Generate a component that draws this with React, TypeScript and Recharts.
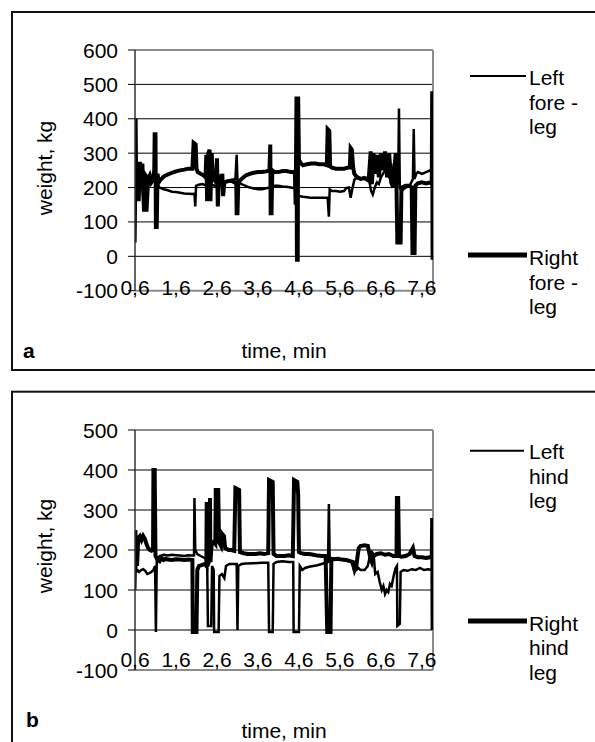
import React from "react";
import { LineChart, Line, XAxis, YAxis, ReferenceLine } from "recharts";

const FONT = "'Liberation Sans', Arial, Helvetica, sans-serif";

const timeTicks = [0.6, 1.6, 2.6, 3.6, 4.6, 5.6, 6.6, 7.6];
const timeEnd = 7.87;
const foreTicks = [-100, 0, 100, 200, 300, 400, 500, 600];
const hindTicks = [-100, 0, 100, 200, 300, 400, 500];

// [time (min), weight (kg)]
const leftFore: [number, number][] = [
  [0.6, 220], [0.61, 40], [0.625, 230], [0.65, 165], [0.68, 250], [0.72, 195], [0.76, 245], [0.8, 170],
  [0.85, 240], [0.9, 230], [0.95, 225], [1.0, 215], [1.05, 220], [1.1, 225], [1.15, 210], [1.2, 200],
  [1.3, 195], [1.4, 192], [1.5, 188], [1.6, 187], [1.7, 185], [1.8, 183], [1.9, 182], [2.0, 181],
  [2.05, 182], [2.07, 145], [2.09, 205], [2.15, 208], [2.25, 210], [2.35, 205], [2.45, 210], [2.55, 205],
  [2.65, 210], [2.75, 215], [2.85, 220], [2.95, 222], [3.05, 225], [3.08, 295], [3.1, 220], [3.15, 215],
  [3.2, 210], [3.3, 205], [3.4, 200], [3.5, 197], [3.6, 195], [3.7, 195], [3.8, 198], [3.9, 200],
  [4.0, 205], [4.1, 205], [4.2, 203], [4.3, 202], [4.4, 200], [4.5, 198], [4.53, 290], [4.57, 170],
  [4.6, 175], [4.7, 173], [4.8, 172], [4.9, 170], [5.0, 170], [5.1, 170], [5.2, 170], [5.3, 170],
  [5.33, 115], [5.35, 195], [5.4, 190], [5.5, 190], [5.6, 188], [5.7, 190], [5.75, 198], [5.82, 200],
  [5.86, 170], [5.9, 195], [5.95, 222], [6.0, 228], [6.1, 225], [6.2, 225], [6.3, 230], [6.33, 210],
  [6.36, 190], [6.4, 180], [6.45, 200], [6.5, 215], [6.55, 210], [6.6, 230], [6.65, 240], [6.7, 250],
  [6.75, 240], [6.8, 230], [6.85, 270], [6.9, 220], [6.95, 210], [7.02, 210], [7.04, 430], [7.06, 200],
  [7.1, 190], [7.2, 200], [7.3, 205], [7.38, 225], [7.4, 370], [7.42, 225], [7.46, 240], [7.5, 245],
  [7.6, 240], [7.7, 245], [7.8, 250], [7.85, 240], [7.87, 250],
];

const rightFore: [number, number][] = [
  [0.6, 210], [0.615, 400], [0.63, 180], [0.66, 270], [0.69, 160], [0.72, 275], [0.75, 200], [0.78, 270],
  [0.82, 130], [0.85, 240], [0.88, 130], [0.92, 225], [0.96, 235], [1.0, 215], [1.04, 222], [1.07, 250],
  [1.08, 355], [1.1, 355], [1.11, 85], [1.13, 85], [1.15, 240], [1.18, 215], [1.22, 222], [1.3, 232],
  [1.4, 238], [1.5, 243], [1.6, 247], [1.7, 250], [1.8, 252], [1.9, 255], [2.0, 255], [2.03, 330],
  [2.08, 325], [2.1, 255], [2.13, 245], [2.2, 240], [2.28, 235], [2.32, 230], [2.34, 295], [2.36, 160],
  [2.39, 300], [2.42, 310], [2.44, 160], [2.47, 300], [2.5, 230], [2.55, 220], [2.58, 215], [2.6, 285],
  [2.62, 145], [2.65, 230], [2.7, 220], [2.73, 240], [2.75, 175], [2.78, 215], [2.85, 218], [2.95, 220],
  [3.03, 215], [3.07, 215], [3.08, 125], [3.1, 125], [3.12, 215], [3.2, 225], [3.3, 235], [3.4, 240],
  [3.5, 243], [3.6, 245], [3.7, 245], [3.8, 247], [3.88, 250], [3.9, 325], [3.91, 125], [3.93, 125],
  [3.95, 250], [4.0, 245], [4.1, 245], [4.2, 248], [4.3, 248], [4.4, 245], [4.5, 245], [4.52, 150],
  [4.54, 465], [4.55, -10], [4.57, -10], [4.58, 465], [4.6, 280], [4.65, 270], [4.7, 265], [4.8, 268],
  [4.9, 270], [5.0, 270], [5.1, 268], [5.2, 268], [5.28, 265], [5.3, 370], [5.34, 365], [5.36, 262],
  [5.4, 258], [5.5, 255], [5.6, 255], [5.7, 255], [5.8, 258], [5.84, 258], [5.86, 315], [5.89, 310],
  [5.92, 260], [5.95, 240], [6.0, 232], [6.1, 225], [6.2, 228], [6.3, 220], [6.35, 305], [6.38, 210],
  [6.42, 300], [6.45, 240], [6.5, 295], [6.55, 230], [6.6, 300], [6.65, 250], [6.7, 305], [6.75, 230],
  [6.8, 300], [6.85, 215], [6.9, 200], [6.96, 300], [6.98, 200], [7.0, 40], [7.08, 40], [7.1, 200],
  [7.2, 205], [7.3, 205], [7.35, 200], [7.37, 10], [7.42, 10], [7.44, 205], [7.5, 212], [7.6, 215],
  [7.7, 212], [7.8, 215], [7.84, 210], [7.85, 480], [7.86, -10], [7.87, 210],
];

const leftHind: [number, number][] = [
  [0.6, 200], [0.605, 100], [0.62, 170], [0.64, 145], [0.66, 150], [0.7, 145], [0.75, 150], [0.8, 152],
  [0.85, 148], [0.9, 140], [0.95, 142], [1.0, 145], [1.05, 150], [1.09, 160], [1.11, -5], [1.13, 170],
  [1.16, 180], [1.2, 185], [1.3, 188], [1.4, 186], [1.5, 188], [1.6, 187], [1.7, 186], [1.8, 185],
  [1.9, 187], [2.0, 186], [2.04, 186], [2.05, 330], [2.07, 200], [2.12, 190], [2.2, 185], [2.3, 180],
  [2.36, 175], [2.38, 10], [2.46, 10], [2.48, 160], [2.52, 150], [2.53, -5], [2.64, -5], [2.66, 135],
  [2.72, 140], [2.78, 130], [2.82, 160], [2.9, 165], [3.0, 165], [3.08, 165], [3.1, 0], [3.12, 160],
  [3.2, 165], [3.3, 166], [3.5, 167], [3.7, 168], [3.85, 168], [3.87, -5], [3.96, -5], [3.98, 165],
  [4.05, 170], [4.2, 172], [4.35, 170], [4.46, 170], [4.47, -5], [4.6, -5], [4.62, 160], [4.68, 150],
  [4.75, 155], [4.85, 158], [4.95, 160], [5.05, 162], [5.15, 165], [5.25, 168], [5.31, 170], [5.33, 315],
  [5.35, 175], [5.4, 178], [5.5, 178], [5.6, 176], [5.7, 175], [5.8, 175], [5.88, 170], [5.94, 150],
  [6.0, 150], [6.05, 155], [6.1, 150], [6.2, 150], [6.28, 160], [6.33, 185], [6.38, 195], [6.42, 190],
  [6.46, 140], [6.52, 145], [6.57, 120], [6.62, 100], [6.66, 110], [6.7, 90], [6.74, 100], [6.78, 95],
  [6.82, 115], [6.86, 110], [6.92, 140], [6.96, 155], [6.99, 160], [7.0, 10], [7.06, 15], [7.08, 145],
  [7.15, 150], [7.25, 148], [7.35, 152], [7.45, 150], [7.55, 155], [7.65, 150], [7.75, 152], [7.85, 150],
  [7.87, 155],
];

const rightHind: [number, number][] = [
  [0.6, 150], [0.61, 250], [0.62, 180], [0.635, 215], [0.65, 160], [0.68, 230], [0.72, 235], [0.76, 225],
  [0.8, 235], [0.84, 228], [0.88, 215], [0.92, 205], [0.96, 200], [1.0, 198], [1.04, 200], [1.05, 400],
  [1.08, 400], [1.1, 185], [1.15, 175], [1.2, 172], [1.25, 180], [1.3, 175], [1.35, 178], [1.4, 176],
  [1.5, 175], [1.6, 177], [1.7, 176], [1.8, 175], [1.9, 176], [2.0, 175], [2.01, -5], [2.1, -5],
  [2.12, 150], [2.16, 160], [2.22, 162], [2.3, 165], [2.34, 160], [2.35, 320], [2.37, 160], [2.4, 170],
  [2.43, 330], [2.44, 170], [2.47, 215], [2.52, 220], [2.56, 215], [2.57, 350], [2.63, 350], [2.65, 220],
  [2.7, 210], [2.73, 240], [2.77, 235], [2.8, 205], [2.88, 200], [2.95, 200], [3.02, 198], [3.05, 355],
  [3.14, 350], [3.16, 195], [3.25, 192], [3.35, 190], [3.45, 190], [3.55, 190], [3.65, 192], [3.75, 190],
  [3.85, 192], [3.87, 375], [3.96, 370], [3.98, 190], [4.05, 185], [4.15, 185], [4.25, 185], [4.35, 187],
  [4.45, 185], [4.48, 375], [4.56, 370], [4.58, 340], [4.6, 195], [4.65, 192], [4.75, 190], [4.85, 190],
  [4.95, 188], [5.05, 186], [5.15, 185], [5.25, 185], [5.29, -5], [5.37, -5], [5.39, 178], [5.45, 177],
  [5.55, 178], [5.65, 176], [5.75, 175], [5.85, 172], [5.92, 170], [5.96, 150], [6.0, 160], [6.03, 185],
  [6.06, 205], [6.1, 210], [6.2, 212], [6.28, 210], [6.33, 185], [6.38, 170], [6.42, 185], [6.5, 190],
  [6.6, 192], [6.7, 188], [6.8, 190], [6.9, 185], [6.98, 185], [6.99, 330], [7.02, 330], [7.04, 185],
  [7.1, 183], [7.2, 185], [7.3, 190], [7.38, 205], [7.42, 185], [7.5, 182], [7.6, 182], [7.7, 180],
  [7.8, 182], [7.84, 180], [7.85, 280], [7.86, 0], [7.87, 180],
];

const toRows = (pts: [number, number][]) => pts.map(([t, w]) => ({ t, w }));

const TimeTick = ({ x, y, payload, dy }: any) => (
  <text x={x} y={y + dy} textAnchor="middle" fontSize={21} fontFamily={FONT} fill="#000">
    {String(payload.value).replace(".", ",")}
  </text>
);

const WeightTick = ({ x, y, payload }: any) => (
  <text x={x} y={y} dy={7.5} textAnchor="end" fontSize={21} fontFamily={FONT} fill="#000">
    {payload.value}
  </text>
);

function WeightChart({ height, plotBottom, yTicks, leftData, rightData, leftName, rightName, tickDy }: any) {
  const yMax = yTicks[yTicks.length - 1];
  return (
    <LineChart width={595} height={height} margin={{ top: 50, right: 162, left: 75, bottom: height - plotBottom - 30 }}>
      <XAxis
        dataKey="t"
        type="number"
        domain={[timeTicks[0], timeEnd]}
        ticks={timeTicks}
        interval={0}
        allowDataOverflow
        height={30}
        tickSize={0}
        tickMargin={0}
        tickLine={false}
        axisLine={{ stroke: "#8c8c8c", strokeWidth: 2 }}
        tick={<TimeTick dy={tickDy} />}
      />
      <YAxis
        type="number"
        domain={[yTicks[0], yMax]}
        ticks={yTicks}
        interval={0}
        width={60}
        tickSize={7}
        tickMargin={10}
        axisLine={{ stroke: "#333", strokeWidth: 1.5 }}
        tickLine={{ stroke: "#000" }}
        tick={<WeightTick />}
      />
      {yTicks.slice(1, -1).map((v: number) => (
        <ReferenceLine key={v} y={v} stroke="#000" strokeWidth={1} />
      ))}
      <ReferenceLine y={yMax} stroke="#8c8c8c" strokeWidth={2} />
      <ReferenceLine x={timeEnd} stroke="#8c8c8c" strokeWidth={2} />
      <Line data={toRows(leftData)} dataKey="w" name={leftName} type="linear" stroke="#000" strokeWidth={2.5} dot={false} isAnimationActive={false} />
      <Line data={toRows(rightData)} dataKey="w" name={rightName} type="linear" stroke="#000" strokeWidth={4} dot={false} isAnimationActive={false} />
    </LineChart>
  );
}

function LegendItem({ x1, x2, y, width, lines, baseline }: any) {
  return (
    <g>
      <line x1={x1} x2={x2} y1={y} y2={y} stroke="#000" strokeWidth={width} />
      {lines.map((s: string, i: number) => (
        <text key={i} x={529} y={baseline + i * 24.5} fontSize={21} fontFamily={FONT} fill="#000">{s}</text>
      ))}
    </g>
  );
}

export default function App() {
  return (
    <div style={{ position: "absolute", left: 0, top: 0, width: 595, height: 742, overflow: "hidden", background: "#fff" }}>
      <div style={{ position: "absolute", left: 0, top: 0 }}>
        <WeightChart height={380} plotBottom={290.7} yTicks={foreTicks} leftData={leftFore} rightData={rightFore}
          leftName="Left fore - leg" rightName="Right fore - leg" tickDy={4.3} />
      </div>
      <div style={{ position: "absolute", left: 0, top: 380 }}>
        <WeightChart height={362} plotBottom={290} yTicks={hindTicks} leftData={leftHind} rightData={rightHind}
          leftName="Left hind leg" rightName="Right hind leg" tickDy={-3.3} />
      </div>
      <svg width={595} height={742} style={{ position: "absolute", left: 0, top: 0, pointerEvents: "none" }}>
        <rect x={12} y={12} width={700} height={358} fill="none" stroke="#111" strokeWidth={2} />
        <rect x={12} y={391.7} width={700} height={400} fill="none" stroke="#111" strokeWidth={2} />

        <text x={44} y={168} transform="rotate(-90 44 168)" textAnchor="middle" dominantBaseline="central" fontSize={21} fontFamily={FONT}>weight, kg</text>
        <text x={284} y={358} textAnchor="middle" fontSize={21} fontFamily={FONT}>time, min</text>
        <text x={23} y={358} fontSize={21} fontWeight="bold" fontFamily={FONT}>a</text>
        <LegendItem x1={470} x2={526} y={76} width={2} lines={["Left", "fore -", "leg"]} baseline={85} />
        <LegendItem x1={468} x2={527} y={255} width={5} lines={["Right", "fore -", "leg"]} baseline={265} />

        <text x={44} y={546} transform="rotate(-90 44 546)" textAnchor="middle" dominantBaseline="central" fontSize={21} fontFamily={FONT}>weight, kg</text>
        <text x={284} y={738} textAnchor="middle" fontSize={21} fontFamily={FONT}>time, min</text>
        <text x={26} y={727} fontSize={21} fontWeight="bold" fontFamily={FONT}>b</text>
        <LegendItem x1={470} x2={524} y={450.7} width={2} lines={["Left", "hind", "leg"]} baseline={459} />
        <LegendItem x1={468} x2={527} y={621} width={5} lines={["Right", "hind", "leg"]} baseline={630.5} />
      </svg>
    </div>
  );
}
